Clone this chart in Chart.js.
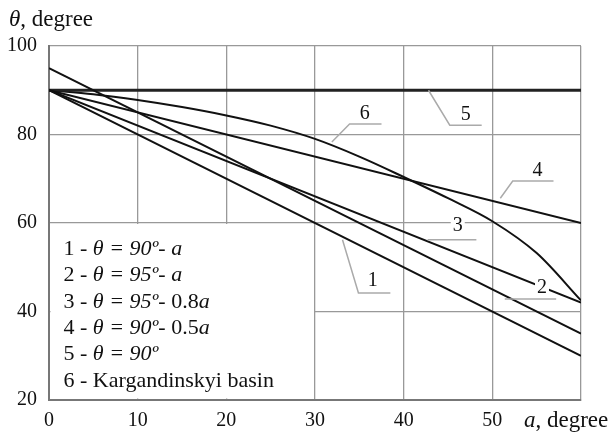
<!DOCTYPE html>
<html>
<head>
<meta charset="utf-8">
<script src="https://cdn.jsdelivr.net/npm/chart.js@4.4.0/dist/chart.umd.min.js"></script>
<style>
  html, body { margin: 0; padding: 0; background: #fff; }
</style>
</head>
<body>
<canvas id="chart" width="611" height="435"></canvas>
<script>
// Values
const alpha = [0, 60];
const line1 = [90, 30];   // 1 - 90 - a
const line2 = [95, 35];   // 2 - 95 - a
const line3 = [90, 42];   // 3 (drawn from 90 in the figure)
const line4 = [90, 60];   // 4 - 90 - 0.5a
const line5 = [90, 90];   // 5 - 90
const basinAlpha = [0, 5, 10, 15, 20, 25, 30, 35, 40, 45, 50, 55, 60];
const basinTheta = [90, 89.1, 87.8, 86.2, 84.3, 82.0, 79.0, 75.0, 70.4, 65.6, 60.4, 53.2, 42.5];

const xTicks = [0, 10, 20, 30, 40, 50];
const yTicks = [20, 40, 60, 80, 100];

// Legend lines: [text, italic?] pieces
const legendLines = [
    [["1 - ", false], ["θ = 90º- a", true]],
    [["2 - ", false], ["θ = 95º- a", true]],
    [["3 - ", false], ["θ = 95º- ", true], ["0.8", false], ["a", true]],
    [["4 - ", false], ["θ = 90º- ", true], ["0.5", false], ["a", true]],
    [["5 - ", false], ["θ = 90º", true]],
    [["6 - Kargandinskyi basin", false]]
];

// Callouts in data units: label, leader points, text centre
const callouts = [
    ["1", [[33.1, 56.2], [34.9, 44.2], [38.5, 44.2]], [36.5, 47.1]],
    ["2", [[51.4, 42.8], [57.2, 42.8]], [55.6, 45.5]],
    ["3", [[42.7, 56.2], [48.2, 56.2]], [46.1, 59.5]],
    ["4", [[50.9, 65.6], [52.3, 69.5], [56.9, 69.5]], [55.1, 72.0]],
    ["5", [[42.8, 90], [45.2, 82.1], [48.8, 82.1]], [47.0, 84.6]],
    ["6", [[31.9, 78.3], [33.9, 82.4], [37.5, 82.4]], [35.6, 84.9]]
];

const SERIF = "'Liberation Serif', 'Times New Roman', serif";

function pairs(xs, ys) {
    return xs.map((x, i) => ({ x: x, y: ys[i] }));
}

function lineSet(data, width, color) {
    return {
        data: data,
        borderColor: color || "#111",
        borderWidth: width || 2,
        pointRadius: 0,
        fill: false
    };
}

// Draw mixed upright / italic pieces on one line
function drawPieces(ctx, pieces, x, y, size) {
    ctx.textBaseline = "middle";
    ctx.textAlign = "left";
    pieces.forEach(p => {
        ctx.font = (p[1] ? "italic " : "") + size + "px " + SERIF;
        ctx.fillText(p[0], x, y);
        x += ctx.measureText(p[0]).width;
    });
}

// White legend panel in the lower left cell block, then text
const legendBox = {
    id: "legendBox",
    beforeDatasetsDraw(chart) {
        const ctx = chart.ctx;
        const xs = chart.scales.x, ys = chart.scales.y;
        const l = xs.getPixelForValue(0) + 1.5, r = xs.getPixelForValue(30) - 1;
        const t = ys.getPixelForValue(60) + 1, b = ys.getPixelForValue(20) - 1.5;
        ctx.save();
        ctx.fillStyle = "#fff";
        ctx.fillRect(l, t, r - l, b - t);
        ctx.fillStyle = "#111";
        legendLines.forEach((pieces, i) => {
            drawPieces(ctx, pieces, l + 13, t + 25 + i * 26.4, 22);
        });
        ctx.restore();
    }
};

const calloutPlugin = {
    id: "callouts",
    afterDatasetsDraw(chart) {
        const ctx = chart.ctx;
        const xs = chart.scales.x, ys = chart.scales.y;
        ctx.save();
        ctx.font = "20px " + SERIF;
        ctx.textAlign = "center";
        ctx.textBaseline = "middle";
        callouts.forEach(c => {
            const tx = xs.getPixelForValue(c[2][0]), ty = ys.getPixelForValue(c[2][1]);
            const w = ctx.measureText(c[0]).width;
            ctx.fillStyle = "#fff";
            ctx.fillRect(tx - w / 2 - 2, ty - 9, w + 4, 18);
            ctx.fillStyle = "#111";
            ctx.fillText(c[0], tx, ty + 1);
        });
        ctx.strokeStyle = "#aaa";
        ctx.lineWidth = 1.5;
        callouts.forEach(c => {
            ctx.beginPath();
            c[1].forEach((p, i) => {
                const px = xs.getPixelForValue(p[0]), py = ys.getPixelForValue(p[1]);
                if (i === 0) ctx.moveTo(px, py); else ctx.lineTo(px, py);
            });
            ctx.stroke();
        });
        ctx.restore();
    }
};

const axisTitles = {
    id: "axisTitles",
    afterDraw(chart) {
        const ctx = chart.ctx;
        ctx.save();
        ctx.fillStyle = "#111";
        drawPieces(ctx, [["θ", true], [", degree", false]], 9, 20, 23);
        drawPieces(ctx, [["a", true], [", degree", false]], 524, 421, 23);
        ctx.restore();
    }
};

const ctx = document.getElementById("chart").getContext("2d");

new Chart(ctx, {
    type: "line",
    data: {
        datasets: [
            lineSet(pairs(alpha, line1)),
            lineSet(pairs(alpha, line2)),
            lineSet(pairs(alpha, line3)),
            lineSet(pairs(alpha, line4)),
            lineSet(pairs(alpha, line5), 3, "#222"),
            Object.assign(lineSet(pairs(basinAlpha, basinTheta)), { cubicInterpolationMode: "monotone" })
        ]
    },
    options: {
        responsive: false,
        animation: false,
        events: [],
        layout: { padding: { top: 46, right: 30, left: 0, bottom: 0 } },
        plugins: {
            legend: { display: false },
            tooltip: { enabled: false }
        },
        scales: {
            x: {
                type: "linear",
                min: 0,
                max: 60,
                afterBuildTicks: s => { s.ticks = xTicks.concat([60]).map(v => ({ value: v })); },
                afterFit: s => { s.height = 35; },
                ticks: {
                    callback: v => (xTicks.includes(v) ? v : ""),
                    font: { family: SERIF, size: 20 },
                    color: "#111",
                    padding: 9,
                    maxRotation: 0
                },
                grid: { color: "#999", lineWidth: 1.3, drawTicks: false },
                border: { display: true, color: "#777", width: 2 }
            },
            y: {
                type: "linear",
                min: 20,
                max: 100,
                afterBuildTicks: s => { s.ticks = yTicks.map(v => ({ value: v })); },
                afterFit: s => { s.width = 49; },
                ticks: {
                    font: { family: SERIF, size: 20 },
                    color: "#111",
                    padding: 12
                },
                grid: { color: "#999", lineWidth: 1.3, drawTicks: false },
                border: { display: true, color: "#777", width: 2 }
            }
        }
    },
    plugins: [legendBox, calloutPlugin, axisTitles]
});
</script>
</body>
</html>
